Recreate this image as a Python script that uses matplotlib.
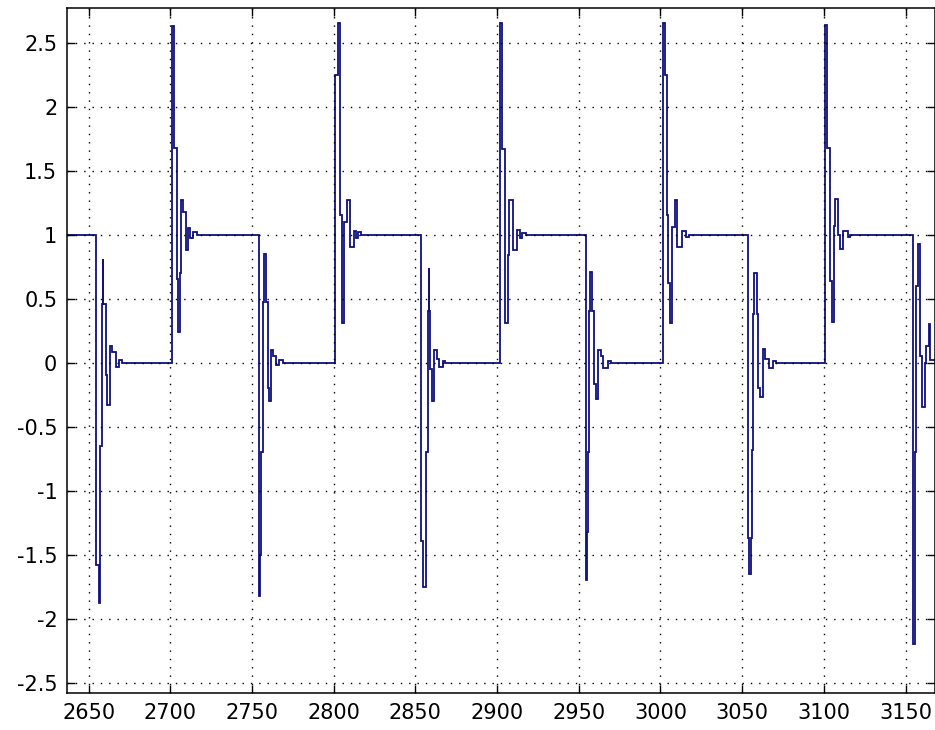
import numpy as np
import matplotlib.pyplot as plt
from matplotlib.ticker import FormatStrFormatter

plt.rcParams['axes.unicode_minus'] = False
plt.rcParams['font.family'] = ['DejaVu Sans']

# instants where the reference input switches, and the level the output settles to
switch_times = [2654.7, 2700.8, 2754.1, 2800.8, 2853.2, 2901.6,
                2954.5, 3001.6, 3053.4, 3100.6, 3154.6]
settle_levels = [0, 1, 0, 1, 0, 1, 0, 1, 0, 1, 0]
start_level = 1

# transient after each switch: held levels and how long each is held (x units)
fall1_levels = [-1.58, -1.88, -0.65, 0.46, 0.81, 0.46, -0.1, -0.33, 0.13, 0.08, -0.03, 0.02]
fall1_holds = [1.4, 0.8, 1.3, 0.6, 0.3, 1.8, 0.6, 1.4, 1.7, 2.4, 1.6, 2.0]
rise1_levels = [2.63, 1.68, 0.65, 0.24, 0.7, 1.27, 1.18, 0.88, 1.05, 0.97, 1.02]
rise1_holds = [1.2, 2.1, 0.6, 1.2, 0.6, 1.2, 1.7, 1.2, 1.6, 2.0, 2.0]
fall2_levels = [-1.82, -1.5, -0.7, 0.47, 0.85, 0.47, -0.2, -0.3, 0.1, 0.05, -0.02, 0.02]
fall2_holds = [0.8, 0.5, 1.3, 0.7, 1.4, 0.9, 0.8, 1.2, 1.4, 1.6, 2.0, 2.0]
rise2_levels = [2.25, 2.65, 1.15, 0.62, 0.31, 1.1, 1.27, 0.9, 1.03, 0.97, 1.02]
rise2_holds = [1.6, 1.4, 1.0, 0.4, 1.2, 1.6, 1.8, 2.4, 1.6, 1.2, 2.0]
fall3_levels = [-1.39, -1.75, -0.7, 0.4, 0.74, 0.4, -0.05, -0.3, 0.1, 0.03, -0.03, 0.01]
fall3_holds = [1.6, 1.4, 1.4, 0.6, 0.3, 0.7, 0.8, 1.6, 1.6, 1.4, 2.0, 1.5]
rise3_levels = [2.65, 1.67, 0.64, 0.31, 0.84, 1.27, 0.88, 1.04, 0.97, 1.01]
rise3_holds = [1.4, 1.6, 0.5, 1.6, 0.8, 2.0, 2.4, 2.0, 1.6, 2.0]
fall4_levels = [-1.70, -1.32, -0.7, 0.4, 0.71, 0.4, -0.17, -0.28, 0.1, 0.05, -0.04, 0.01]
fall4_holds = [0.4, 0.8, 0.4, 0.6, 1.6, 0.8, 1.2, 1.6, 2.0, 1.0, 3.0, 2.0]
rise4_levels = [2.65, 2.25, 1.15, 0.62, 0.31, 1.06, 1.27, 0.9, 1.03, 0.98]
rise4_holds = [1.2, 1.4, 0.6, 0.8, 1.6, 1.4, 1.6, 2.8, 2.6, 2.0]
fall5_levels = [-1.37, -1.65, -1.37, -0.68, 0.38, 0.7, 0.38, -0.2, -0.27, 0.11, 0.03, -0.04, 0.01]
fall5_holds = [0.6, 1.4, 0.4, 1.0, 0.6, 1.6, 0.8, 0.8, 2.0, 1.6, 2.0, 2.4, 2.0]
rise5_levels = [2.64, 1.68, 0.64, 0.32, 1.07, 1.28, 1.0, 0.89, 1.03, 0.98]
rise5_holds = [1.4, 2.0, 0.8, 1.2, 0.8, 1.6, 1.2, 2.0, 3.0, 1.4]
fall6_levels = [-2.2, -0.7, 0.6, 0.93, 0.6, 0.05, -0.35, 0.0, 0.13, 0.3, 0.02]
fall6_holds = [1.0, 1.0, 1.0, 1.0, 0.4, 1.0, 2.0, 0.5, 1.6, 0.6, 6.0]

transient_levels = [fall1_levels, rise1_levels, fall2_levels, rise2_levels, fall3_levels,
                    rise3_levels, fall4_levels, rise4_levels, fall5_levels, rise5_levels,
                    fall6_levels]
transient_holds = [fall1_holds, rise1_holds, fall2_holds, rise2_holds, fall3_holds,
                   rise3_holds, fall4_holds, rise4_holds, fall5_holds, rise5_holds,
                   fall6_holds]

x_lo, x_hi = 2636.8, 3168.0
y_lo, y_hi = -2.58, 2.77

# build the zero-order-hold trace
edges = [x_lo - 5]
values = []
level = start_level
for t0, lv, holds, final in zip(switch_times, transient_levels, transient_holds, settle_levels):
    edges.append(t0)
    values.append(level)
    t = t0
    for v, h in zip(lv, holds):
        t += h
        edges.append(t)
        values.append(v)
    level = final
edges.append(x_hi + 10)
values.append(level)

fig = plt.figure(figsize=(9.35, 7.30), dpi=100)
ax = fig.add_axes([67 / 935, 37 / 730, (935 - 67) / 935, (693 - 8) / 730])

ax.stairs(values, edges, color='#10107f', linewidth=1.3, baseline=None)

ax.set_xlim(x_lo, x_hi)
ax.set_ylim(y_lo, y_hi)
ax.set_xticks(np.arange(2650, 3151, 50))
ax.set_yticks(np.arange(-2.5, 2.51, 0.5))
ax.yaxis.set_major_formatter(FormatStrFormatter('%g'))

ax.grid(True, color='black', linestyle=(0, (1, 5)), linewidth=1.0)
ax.tick_params(direction='in', length=6, width=1, top=True, right=True,
               labelsize=15, pad=7, colors='black')
for s in ax.spines.values():
    s.set_linewidth(1.1)
    s.set_color('black')

fig.savefig('out.png', dpi=100, facecolor='white')
